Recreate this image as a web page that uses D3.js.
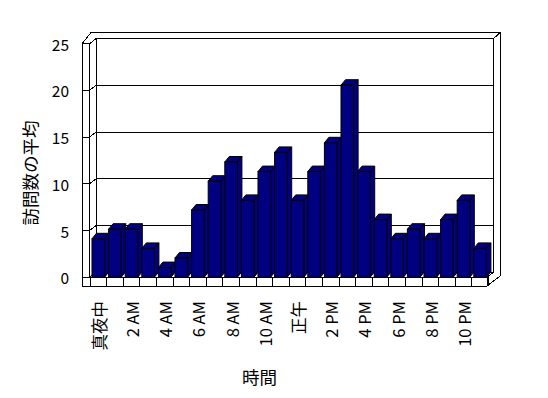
<!DOCTYPE html>
<html>
<head>
<meta charset="utf-8">
<script src="https://cdn.jsdelivr.net/npm/d3@7"></script>
<style>
  body { margin: 0; background: #fff; }
  svg { display: block; font-family: "Noto Sans CJK JP", sans-serif; }
</style>
</head>
<body>
<div id="chart"></div>
<script>
// hourly categories (only every second one is labelled)
const hours = ["真夜中", "1 AM", "2 AM", "3 AM", "4 AM", "5 AM", "6 AM", "7 AM", "8 AM", "9 AM", "10 AM", "11 AM",
  "正午", "1 PM", "2 PM", "3 PM", "4 PM", "5 PM", "6 PM", "7 PM", "8 PM", "9 PM", "10 PM", "11 PM"]
const visits = [4, 5, 5, 3, 1, 2, 7, 10, 12, 8, 11, 13, 8, 11, 14, 20, 11, 6, 4, 5, 4, 6, 8, 3]
const yTicks = [0, 5, 10, 15, 20, 25]
const xTitle = "時間"
const yTitle = "訪問数の平均"

const W = 548, H = 398

const svg = d3.select("#chart").append("svg")
  .attr("width", W)
  .attr("height", H)

// front plane category scale
const x = d3.scaleBand()
  .domain(hours)
  .range([90, 488.4])
  .paddingInner(0.24)
  .paddingOuter(0.12)

// back wall (gridlines) and bar scales
const yBack = d3.scaleLinear().domain([0, 25]).range([272.2, 38.7])
const yBar = d3.scaleLinear().domain([0, 25]).range([277.2, 37.2])

const DX = 6.5, DY = 5          // depth of the plot box
const BDX = 4.5, BDY = 5.5      // depth of each column
const yFront = v => yBack(v) + DY

const leftOuter = 82, leftInner = 89.5
const frontRight = 487
const backLeft = leftInner + DX, backRight = frontRight + DX
const floorTop = yFront(0), floorBottom = 286
const outerTop = 32.5, outerRight = 500

const lines = svg.append("g")
  .attr("stroke", "#000")
  .attr("stroke-width", 1)
  .attr("fill", "none")
  .style("shape-rendering", "crispEdges")

const seg = (x1, y1, x2, y2) => lines.append("line")
  .attr("x1", x1).attr("y1", y1).attr("x2", x2).attr("y2", y2)

// back wall face
lines.append("rect")
  .attr("x", backLeft).attr("y", yBack(25))
  .attr("width", backRight - backLeft).attr("height", yBack(0) - yBack(25))

// gridlines over back wall + left wall
yTicks.forEach(v => {
  seg(backLeft, yBack(v), backRight, yBack(v))
  seg(leftInner, yFront(v), backLeft, yBack(v))
  seg(leftOuter, yFront(v), leftInner, yFront(v))
})

// left wall edges
seg(leftOuter, yFront(25), leftOuter, floorBottom)
seg(leftInner, yFront(25), leftInner, floorTop)

// outer outline of the walls
lines.append("path")
  .attr("d", d3.line()([
    [leftOuter, yFront(25)], [leftOuter + 9, outerTop], [outerRight, outerTop],
    [outerRight, floorBottom - 10], [frontRight, floorBottom]
  ]))
seg(backRight, yBack(25), outerRight, outerTop)

// floor
seg(leftInner, floorTop, frontRight, floorTop)
seg(leftOuter, floorBottom, frontRight, floorBottom)
seg(frontRight, floorTop, frontRight, floorBottom)
seg(frontRight, floorTop, backRight, yBack(0))
d3.range(hours.length + 1).forEach(k => {
  const xx = x.range()[0] + k * x.step()
  seg(xx, floorTop, xx, floorBottom)
})

// columns
const bw = x.bandwidth()
const bars = svg.append("g")
  .attr("fill", "#000080")
  .attr("stroke", "#000")
  .attr("stroke-width", 1)
  .attr("stroke-linejoin", "miter")

hours.forEach((h, i) => {
  const x0 = x(h), y0 = yBar(visits[i]), base = yBar(0)
  const g = bars.append("g")
  g.append("polygon").attr("points", [
    [x0 + bw, y0], [x0 + bw + BDX, y0 - BDY], [x0 + bw + BDX, base - BDY], [x0 + bw, base]
  ].join(" "))
  g.append("polygon").attr("points", [
    [x0, y0], [x0 + BDX, y0 - BDY], [x0 + bw + BDX, y0 - BDY], [x0 + bw, y0]
  ].join(" "))
  g.append("rect")
    .attr("x", x0).attr("y", y0)
    .attr("width", bw).attr("height", base - y0)
})

// y tick labels
svg.append("g")
  .selectAll("text")
  .data(yTicks)
  .join("text")
    .attr("x", 69)
    .attr("y", d => yFront(d))
    .attr("text-anchor", "end")
    .attr("dominant-baseline", "central")
    .attr("font-size", 15.5)
    .text(d => d)

// x tick labels, rotated
svg.append("g")
  .selectAll("text")
  .data(hours.filter((h, i) => i % 2 === 0))
  .join("text")
    .attr("transform", d => `translate(${x(d) + bw / 2 + 0.5},301) rotate(-90)`)
    .attr("text-anchor", "end")
    .attr("dominant-baseline", "central")
    .attr("font-size", 16.5)
    .text(d => d)

// axis titles
svg.append("text")
  .attr("x", 259.5)
  .attr("y", 376)
  .attr("text-anchor", "middle")
  .attr("dominant-baseline", "central")
  .attr("font-size", 17.5)
  .text(xTitle)

svg.append("text")
  .attr("transform", "translate(29,173) rotate(-90)")
  .attr("text-anchor", "middle")
  .attr("dominant-baseline", "central")
  .attr("font-size", 17.5)
  .text(yTitle)
</script>
</body>
</html>
